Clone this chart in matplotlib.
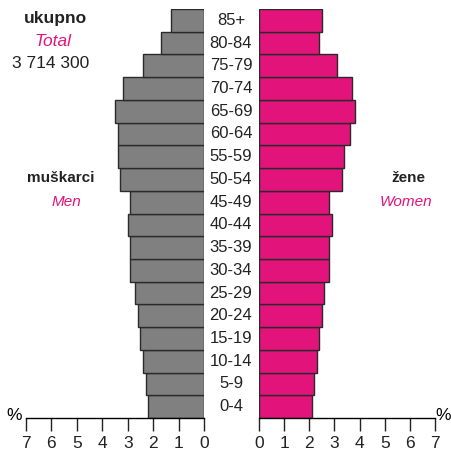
import numpy as np
import matplotlib.pyplot as plt

plt.rcParams['font.family'] = ['Liberation Sans', 'DejaVu Sans']
narrow = ['Liberation Sans Narrow', 'Liberation Sans', 'DejaVu Sans']

ages = ["0-4", "5-9", "10-14", "15-19", "20-24", "25-29", "30-34", "35-39",
        "40-44", "45-49", "50-54", "55-59", "60-64", "65-69", "70-74",
        "75-79", "80-84", "85+"]
men = [2.2, 2.3, 2.4, 2.5, 2.6, 2.7, 2.9, 2.9,
       3.0, 2.9, 3.3, 3.4, 3.4, 3.5, 3.2,
       2.4, 1.7, 1.3]
women = [2.1, 2.2, 2.3, 2.4, 2.5, 2.6, 2.8, 2.8,
         2.9, 2.8, 3.3, 3.4, 3.6, 3.8, 3.7,
         3.1, 2.4, 2.5]
ticks = [0, 1, 2, 3, 4, 5, 6, 7]

grey = "#808080"
pink = "#E2147C"
edge = "#2a2a2a"

fig = plt.figure(figsize=(4.52, 4.54), dpi=100)
bottom = 1 - 418 / 454
height = (418 - 9) / 454
ax_l = fig.add_axes([26 / 452, bottom, 178 / 452, height])
ax_r = fig.add_axes([259 / 452, bottom, 176 / 452, height])

y = np.arange(len(ages))
ax_l.barh(y, men, height=1.0, color=grey, edgecolor=edge, linewidth=1.0)
ax_r.barh(y, women, height=1.0, color=pink, edgecolor=edge, linewidth=1.0)

ax_l.set_xlim(7, 0)
ax_r.set_xlim(0, 7)
for ax in (ax_l, ax_r):
    ax.set_ylim(-0.5, len(ages) - 0.5)
    for s in ("top", "left", "right"):
        ax.spines[s].set_visible(False)
    ax.spines["bottom"].set_linewidth(1.0)
    ax.set_yticks([])
    ax.set_xticks(ticks)
    ax.set_xticklabels([str(t) for t in ticks], family=narrow)
    ax.tick_params(axis="x", direction="out", length=9, width=1.0,
                   labelsize=12.5, pad=4, colors="#222222")
    ax.patch.set_alpha(0)

# age labels in the middle
for i, a in enumerate(ages):
    fig.text(231 / 452, bottom + height * (i + 0.5) / len(ages), a,
             ha="center", va="center", fontsize=12, color="#222222",
             family=narrow)

fig.text(14 / 452, 1 - 416 / 454, "%", ha="center", va="center",
         fontsize=12.5, family=narrow)
fig.text(443 / 452, 1 - 416 / 454, "%", ha="center", va="center",
         fontsize=12.5, family=narrow)

fig.text(55 / 452, 1 - 18 / 454, "ukupno", ha="center", va="center",
         fontsize=12.5, fontweight="bold", color="#222222")
fig.text(53 / 452, 1 - 41 / 454, "Total", ha="center", va="center",
         fontsize=12.5, style="italic", color=pink)
fig.text(51 / 452, 1 - 63 / 454, "3 714 300", ha="center", va="center",
         fontsize=12.5, color="#222222")

fig.text(61 / 452, 1 - 178 / 454, "muškarci", ha="center", va="center",
         fontsize=11, fontweight="bold", color="#222222")
fig.text(66 / 452, 1 - 202 / 454, "Men", ha="center", va="center",
         fontsize=11, style="italic", color=pink)
fig.text(408 / 452, 1 - 178 / 454, "žene", ha="center", va="center",
         fontsize=11, fontweight="bold", color="#222222")
fig.text(406 / 452, 1 - 202 / 454, "Women", ha="center", va="center",
         fontsize=11, style="italic", color=pink)

fig.savefig("out.png", dpi=100)
